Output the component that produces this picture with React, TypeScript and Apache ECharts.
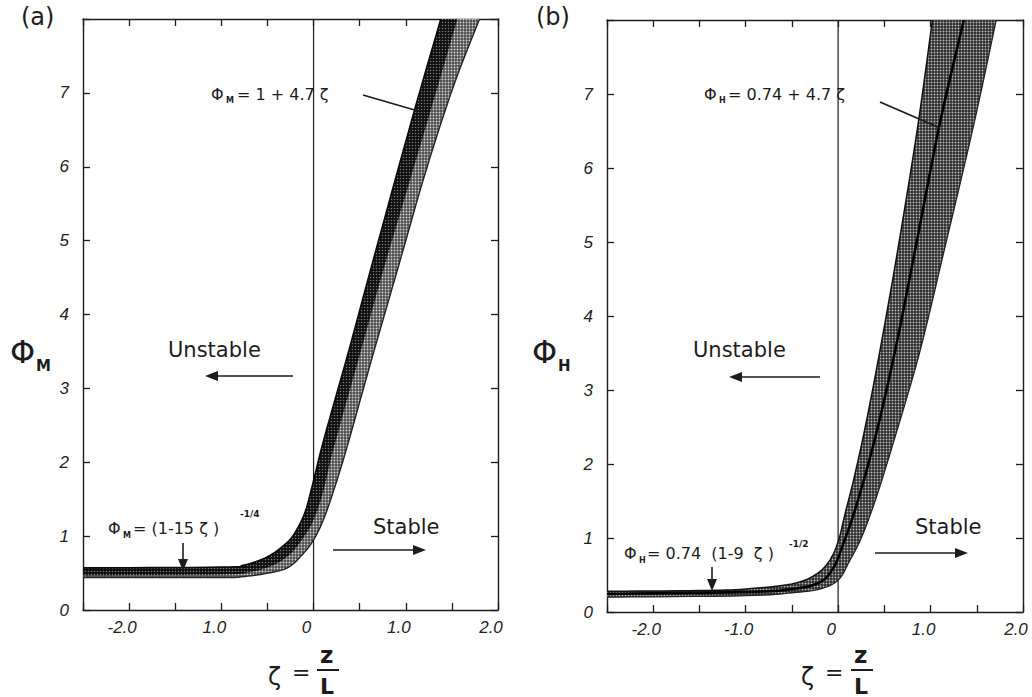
import React, { useEffect, useRef } from 'react';
import * as echarts from 'echarts';

// ---------- data ----------
// axis ranges / tick labels
const X_MIN = -2.5;
const X_MAX = 2.0;
const X_STEP = 0.5;
const Y_MIN = 0;
const Y_MAX = 8;
const xLabelValues = [-2, -1, 0, 1, 2];
const xLabelTextA = ['-2.0', '1.0', '0', '1.0', '2.0'];
const xLabelTextB = ['-2.0', '-1.0', '0', '1.0', '2.0'];
const yLabelValues = [0, 1, 2, 3, 4, 5, 6, 7];

// panel (a): phi_M band — upper (left) edge
const zetaUpperA = [-2.5, -1.0, -0.75, -0.5, -0.3, -0.2, -0.1, -0.03, 0.11, 0.38, 0.65, 1.08, 1.38];
const phiUpperA = [0.57, 0.58, 0.61, 0.72, 0.9, 1.05, 1.3, 1.6, 2.3, 3.5, 4.75, 6.7, 8.0];
// panel (a): lower (right) edge
const zetaLowerA = [-2.5, -1.0, -0.78, -0.49, -0.27, -0.1, 0.0, 0.1, 0.2, 0.35, 0.62, 0.92, 1.22, 1.52, 1.8];
const phiLowerA = [0.44, 0.44, 0.45, 0.5, 0.58, 0.78, 0.95, 1.2, 1.55, 2.15, 3.35, 4.65, 5.95, 7.1, 8.0];
// panel (a): boundary between dark and light halves of the band
const zetaMidA = [-2.5, -1.0, -0.7, -0.45, -0.25, -0.1, 0.0, 0.1, 0.22, 0.5, 0.78, 1.22, 1.56];
const phiMidA = [0.47, 0.48, 0.51, 0.6, 0.76, 1.0, 1.22, 1.58, 2.2, 3.45, 4.7, 6.55, 8.0];

// panel (b): phi_H band — upper (left) edge
const zetaUpperB = [-2.5, -1.5, -1.0, -0.5, -0.25, -0.1, 0.0, 0.08, 0.18, 0.31, 0.47, 0.66, 0.86, 1.02];
const phiUpperB = [0.28, 0.29, 0.31, 0.38, 0.5, 0.68, 0.95, 1.35, 1.85, 2.6, 3.65, 5.0, 6.55, 8.0];
// panel (b): lower (right) edge
const zetaLowerB = [-2.5, -1.0, -0.5, -0.2, 0.0, 0.12, 0.25, 0.4, 0.6, 0.88, 1.15, 1.47, 1.71];
const phiLowerB = [0.2, 0.22, 0.26, 0.31, 0.43, 0.68, 1.0, 1.5, 2.3, 3.5, 4.9, 6.6, 8.0];
// panel (b): dark centre line
const zetaCenterB = [-2.5, -1.0, -0.5, -0.2, -0.05, 0.05, 0.2, 0.4, 0.62, 0.85, 1.1, 1.36];
const phiCenterB = [0.245, 0.27, 0.31, 0.4, 0.6, 0.9, 1.45, 2.35, 3.55, 5.0, 6.6, 8.0];

// neutral line zeta = 0
const zeroLineZeta = [0, 0];
const zeroLinePhi = [0, 8];

// ---------- helpers ----------
function catmull(pts: number[][], steps = 8): number[][] {
  const out: number[][] = [];
  const n = pts.length;
  for (let i = 0; i < n - 1; i++) {
    const p0 = pts[Math.max(0, i - 1)];
    const p1 = pts[i];
    const p2 = pts[i + 1];
    const p3 = pts[Math.min(n - 1, i + 2)];
    for (let s = 0; s < steps; s++) {
      const t = s / steps;
      const t2 = t * t;
      const t3 = t2 * t;
      const f = (a: number, b: number, c: number, d: number) =>
        0.5 * (2 * b + (-a + c) * t + (2 * a - 5 * b + 4 * c - d) * t2 + (-a + 3 * b - 3 * c + d) * t3);
      out.push([f(p0[0], p1[0], p2[0], p3[0]), f(p0[1], p1[1], p2[1], p3[1])]);
    }
  }
  out.push(pts[n - 1]);
  return out;
}

function makePattern(bg: string, dot: string, size: number, r: number) {
  const c = document.createElement('canvas');
  c.width = size;
  c.height = size;
  const g = c.getContext('2d')!;
  g.fillStyle = bg;
  g.fillRect(0, 0, size, size);
  g.fillStyle = dot;
  g.beginPath();
  g.arc(size / 2, size / 2, r, 0, Math.PI * 2);
  g.fill();
  return { image: c, repeat: 'repeat' };
}

const FONT = 'DejaVu Sans';
const TICKFONT = 'Liberation Sans';
const INK = '#1c1c1c';

function xAxis(gridIndex: number, position: 'top' | 'bottom', labels: string[] | null) {
  return {
    type: 'value',
    gridIndex,
    position,
    min: X_MIN,
    max: X_MAX,
    interval: X_STEP,
    axisLine: { show: true, onZero: false, lineStyle: { color: INK, width: 1.4 } },
    axisTick: { show: true, inside: true, length: 7, lineStyle: { color: INK, width: 1.3 } },
    splitLine: { show: false },
    axisLabel: labels
      ? {
          show: true,
          margin: 9,
          color: '#222',
          fontSize: 17,
          fontStyle: 'italic',
          fontFamily: TICKFONT,
          padding: [0, 14, 0, 0],
          formatter: (v: number) => {
            const i = xLabelValues.findIndex((x) => Math.abs(x - v) < 1e-6);
            return i >= 0 ? labels[i] : '';
          },
        }
      : { show: false },
  };
}

function yAxis(gridIndex: number, position: 'left' | 'right', labels: boolean) {
  return {
    type: 'value',
    gridIndex,
    position,
    min: Y_MIN,
    max: Y_MAX,
    interval: 1,
    axisLine: { show: true, onZero: false, lineStyle: { color: INK, width: 1.4 } },
    axisTick: { show: true, inside: true, length: 7, lineStyle: { color: INK, width: 1.3 } },
    splitLine: { show: false },
    axisLabel: labels
      ? {
          show: true,
          margin: 14,
          color: '#222',
          fontSize: 17,
          fontStyle: 'italic',
          fontFamily: TICKFONT,
          formatter: (v: number) => (yLabelValues.indexOf(v) >= 0 ? String(v) : ''),
        }
      : { show: false },
  };
}

function bandSeries(
  axisIdx: number,
  layers: { up: [number[], number[]]; lo: [number[], number[]]; fill: any }[],
  lines: { z: number[]; p: number[]; color: string; width: number }[]
) {
  return {
    type: 'custom',
    xAxisIndex: axisIdx,
    yAxisIndex: axisIdx,
    clip: true,
    z: 3,
    data: layers[0].up[0].map((z, i) => [z, layers[0].up[1][i]]),
    renderItem: (params: any, api: any) => {
      if (params.dataIndex !== 0) return null;
      const children: any[] = [];
      layers.forEach((L) => {
        const up = catmull(L.up[0].map((z, i) => api.coord([z, L.up[1][i]])));
        const lo = catmull(L.lo[0].map((z, i) => api.coord([z, L.lo[1][i]])));
        children.push({
          type: 'polygon',
          shape: { points: up.concat(lo.slice().reverse()) },
          style: { fill: L.fill, stroke: null },
        });
      });
      lines.forEach((ln) => {
        const pts = catmull(ln.z.map((z, i) => api.coord([z, ln.p[i]])));
        children.push({
          type: 'polyline',
          shape: { points: pts },
          style: { stroke: ln.color, lineWidth: ln.width, fill: null },
        });
      });
      return { type: 'group', children };
    },
  };
}

function txt(x: number, y: number, text: string, size: number, extra: any = {}) {
  return {
    type: 'text',
    x,
    y,
    z: 20,
    style: {
      text,
      fontSize: size,
      fontFamily: FONT,
      fill: INK,
      textAlign: 'left',
      textVerticalAlign: 'middle',
      verticalAlign: 'middle',
      ...extra,
    },
  };
}

function seg(x1: number, y1: number, x2: number, y2: number, w = 1.6) {
  return { type: 'line', z: 20, shape: { x1, y1, x2, y2 }, style: { stroke: INK, lineWidth: w } };
}

function head(points: number[][]) {
  return { type: 'polygon', z: 20, shape: { points }, style: { fill: INK } };
}

export default function App() {
  const ref = useRef<HTMLDivElement>(null);
  useEffect(() => {
    if (!ref.current) return;
    const chart = echarts.init(ref.current, undefined, { renderer: 'svg' });

    const lightA = makePattern('#4c4c4c', '#d4d4d4', 3, 0.95);
    const darkA = makePattern('#0e0e0e', '#7a7a7a', 3, 0.8);
    const midB = makePattern('#2a2a2a', '#bdbdbd', 3, 0.95);

    const graphics: any[] = [
      // panel labels
      txt(21, 17, '(a)', 24),
      txt(536, 17, '(b)', 24),
      // y axis titles
      txt(10, 352, 'Φ', 32),
      txt(36, 366, 'M', 15, { fontWeight: 'bold' }),
      txt(532, 352, 'Φ', 32),
      txt(558, 366, 'H', 15, { fontWeight: 'bold' }),
      // x axis titles
      txt(268, 677, 'ζ', 24),
      txt(292, 672, '=', 22),
      txt(320, 655, 'z', 23, { fontWeight: 'bold' }),
      seg(317, 670, 339, 670, 2),
      txt(320, 686, 'L', 22, { fontWeight: 'bold' }),
      txt(801, 677, 'ζ', 24),
      txt(825, 672, '=', 22),
      txt(854, 655, 'z', 23, { fontWeight: 'bold' }),
      seg(851, 670, 873, 670, 2),
      txt(854, 686, 'L', 22, { fontWeight: 'bold' }),

      // (a) annotations
      txt(211, 94, 'Φ', 16),
      txt(226, 100, 'M', 8, { fontWeight: 'bold' }),
      txt(237, 94, '= 1 + 4.7 ζ', 16),
      seg(363, 95, 418, 111, 1.8),
      txt(168, 350, 'Unstable', 21),
      seg(293, 376, 214, 376, 1.6),
      head([[205, 376], [218, 371], [218, 381]]),
      txt(373, 527, 'Stable', 21),
      seg(333, 550, 416, 550, 1.6),
      head([[426, 550], [413, 545], [413, 555]]),
      txt(108, 528, 'Φ', 16),
      txt(123, 535, 'M', 8, { fontWeight: 'bold' }),
      txt(133, 528, '= (1-15 ζ )', 16),
      txt(240, 514, '-1/4', 9, { fontWeight: 'bold' }),
      seg(183, 543, 183, 562, 1.6),
      head([[183, 571], [178, 559], [188, 559]]),

      // (b) annotations
      txt(704, 94, 'Φ', 16),
      txt(719, 100, 'H', 8, { fontWeight: 'bold' }),
      txt(728, 94, '= 0.74 + 4.7 ζ', 16),
      seg(880, 102, 940, 128, 1.8),
      txt(693, 350, 'Unstable', 21),
      seg(820, 377, 738, 377, 1.6),
      head([[729, 377], [742, 372], [742, 382]]),
      txt(915, 527, 'Stable', 21),
      seg(875, 553, 958, 553, 1.6),
      head([[968, 553], [955, 548], [955, 558]]),
      txt(624, 553, 'Φ', 16),
      txt(639, 560, 'H', 8, { fontWeight: 'bold' }),
      txt(647, 553, '= 0.74  (1-9  ζ )', 16),
      txt(789, 544, '-1/2', 9, { fontWeight: 'bold' }),
      seg(712, 567, 712, 582, 1.6),
      head([[712, 591], [707, 579], [717, 579]]),
    ];

    const option: any = {
      animation: false,
      backgroundColor: '#ffffff',
      grid: [
        { left: 83, top: 19, width: 415, height: 591 },
        { left: 607, top: 20, width: 416, height: 592 },
      ],
      xAxis: [
        xAxis(0, 'bottom', xLabelTextA),
        xAxis(1, 'bottom', xLabelTextB),
        xAxis(0, 'top', null),
        xAxis(1, 'top', null),
      ],
      yAxis: [
        yAxis(0, 'left', true),
        yAxis(1, 'left', true),
        yAxis(0, 'right', false),
        yAxis(1, 'right', false),
      ],
      series: [
        {
          type: 'line',
          xAxisIndex: 0,
          yAxisIndex: 0,
          data: zeroLineZeta.map((z, i) => [z, zeroLinePhi[i]]),
          symbol: 'none',
          lineStyle: { color: INK, width: 1.2 },
          z: 1,
        },
        {
          type: 'line',
          xAxisIndex: 1,
          yAxisIndex: 1,
          data: zeroLineZeta.map((z, i) => [z, zeroLinePhi[i]]),
          symbol: 'none',
          lineStyle: { color: INK, width: 1.2 },
          z: 1,
        },
        bandSeries(
          0,
          [
            { up: [zetaUpperA, phiUpperA], lo: [zetaLowerA, phiLowerA], fill: lightA },
            { up: [zetaUpperA, phiUpperA], lo: [zetaMidA, phiMidA], fill: darkA },
          ],
          [
            { z: zetaUpperA, p: phiUpperA, color: '#0a0a0a', width: 1.6 },
            { z: zetaLowerA, p: phiLowerA, color: '#222', width: 1.4 },
          ]
        ),
        bandSeries(
          1,
          [{ up: [zetaUpperB, phiUpperB], lo: [zetaLowerB, phiLowerB], fill: midB }],
          [
            { z: zetaUpperB, p: phiUpperB, color: '#111', width: 1.5 },
            { z: zetaLowerB, p: phiLowerB, color: '#222', width: 1.3 },
            { z: zetaCenterB, p: phiCenterB, color: '#000', width: 2.6 },
          ]
        ),
      ],
      graphic: graphics,
    };
    chart.setOption(option);
    return () => chart.dispose();
  }, []);
  return (
    <div
      ref={ref}
      style={{ position: 'absolute', left: 0, top: 0, width: 1032, height: 697, background: '#fff' }}
    />
  );
}
